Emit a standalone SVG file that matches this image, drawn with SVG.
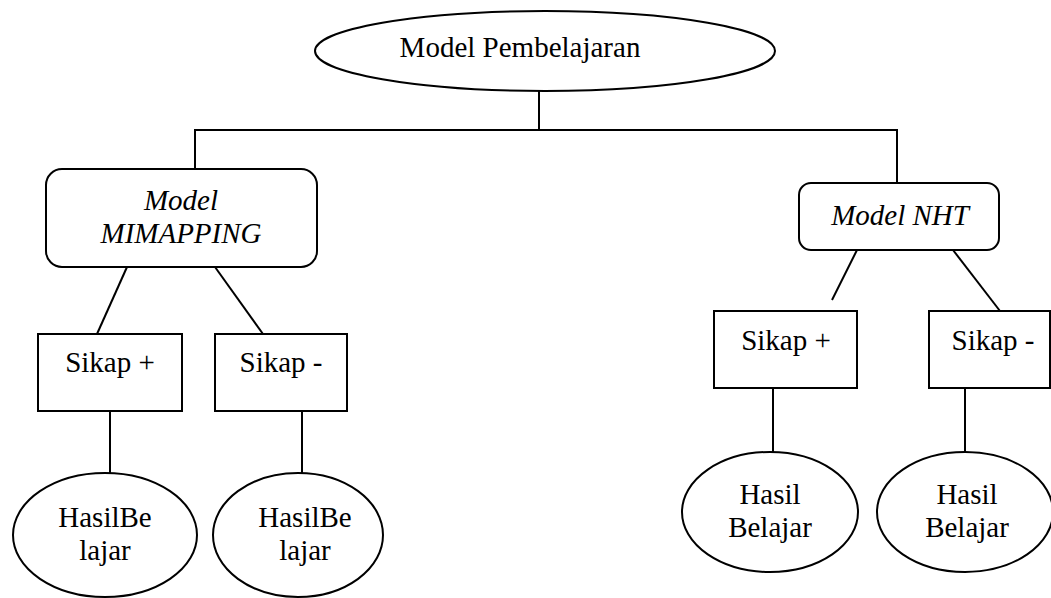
<svg xmlns="http://www.w3.org/2000/svg" width="1051" height="598" viewBox="0 0 1051 598">
<style>
.s{fill:#fff;stroke:#000;stroke-width:2}
.c{fill:none;stroke:#000;stroke-width:2}
.t{font-family:'Liberation Serif','Times New Roman',Tinos,'DejaVu Serif',serif;font-size:29px;fill:#000;text-anchor:middle}
.i{font-style:italic}
</style>
<rect width="1051" height="598" fill="#fff"/>
<g id="connectors">
<line class="c" x1="539" y1="91" x2="539" y2="130"/>
<polyline class="c" points="195,170 195,130 897,130 897,183"/>
<line class="c" x1="127" y1="267" x2="97" y2="334"/>
<line class="c" x1="215" y1="267" x2="263" y2="334"/>
<line class="c" x1="110" y1="411" x2="110" y2="473"/>
<line class="c" x1="302" y1="411" x2="302" y2="473"/>
<line class="c" x1="857" y1="250" x2="832" y2="300"/>
<line class="c" x1="953" y1="250" x2="1000" y2="311"/>
<line class="c" x1="773" y1="388" x2="773" y2="452"/>
<line class="c" x1="965" y1="388" x2="965" y2="452"/>
</g>
<g id="root">
<ellipse class="s" cx="545" cy="51" rx="230" ry="40"/>
<text class="t" x="520" y="57" font-family="Liberation Serif, serif">Model Pembelajaran</text>
</g>
<g id="mimapping">
<rect class="s" x="46" y="169" width="271" height="98" rx="16"/>
<text class="t i" x="181" y="210" font-family="Liberation Serif, serif">Model</text>
<text class="t i" x="181" y="243" font-family="Liberation Serif, serif">MIMAPPING</text>
</g>
<g id="nht">
<rect class="s" x="799" y="183" width="200" height="67" rx="12"/>
<text class="t i" x="900" y="225" font-family="Liberation Serif, serif">Model NHT</text>
</g>
<g id="m-sikap-plus">
<rect class="s" x="38" y="334" width="144" height="77"/>
<text class="t" x="110" y="372" font-family="Liberation Serif, serif">Sikap +</text>
</g>
<g id="m-sikap-minus">
<rect class="s" x="215" y="334" width="132" height="77"/>
<text class="t" x="281" y="372" font-family="Liberation Serif, serif">Sikap -</text>
</g>
<g id="n-sikap-plus">
<rect class="s" x="714" y="311" width="143" height="77"/>
<text class="t" x="786" y="350" font-family="Liberation Serif, serif">Sikap +</text>
</g>
<g id="n-sikap-minus">
<rect class="s" x="929" y="311" width="121" height="77"/>
<text class="t" x="993" y="350" font-family="Liberation Serif, serif">Sikap -</text>
</g>
<g id="m-hasil-1">
<ellipse class="s" cx="105" cy="535" rx="92" ry="62"/>
<text class="t" x="105" y="527" font-family="Liberation Serif, serif">HasilBe</text>
<text class="t" x="105" y="560" font-family="Liberation Serif, serif">lajar</text>
</g>
<g id="m-hasil-2">
<ellipse class="s" cx="298" cy="535" rx="85" ry="62"/>
<text class="t" x="305" y="527" font-family="Liberation Serif, serif">HasilBe</text>
<text class="t" x="305" y="560" font-family="Liberation Serif, serif">lajar</text>
</g>
<g id="n-hasil-1">
<ellipse class="s" cx="770" cy="512" rx="88" ry="60"/>
<text class="t" x="770" y="504" font-family="Liberation Serif, serif">Hasil</text>
<text class="t" x="770" y="537" font-family="Liberation Serif, serif">Belajar</text>
</g>
<g id="n-hasil-2">
<ellipse class="s" cx="965" cy="512" rx="88" ry="60"/>
<text class="t" x="967" y="504" font-family="Liberation Serif, serif">Hasil</text>
<text class="t" x="967" y="537" font-family="Liberation Serif, serif">Belajar</text>
</g>
</svg>
